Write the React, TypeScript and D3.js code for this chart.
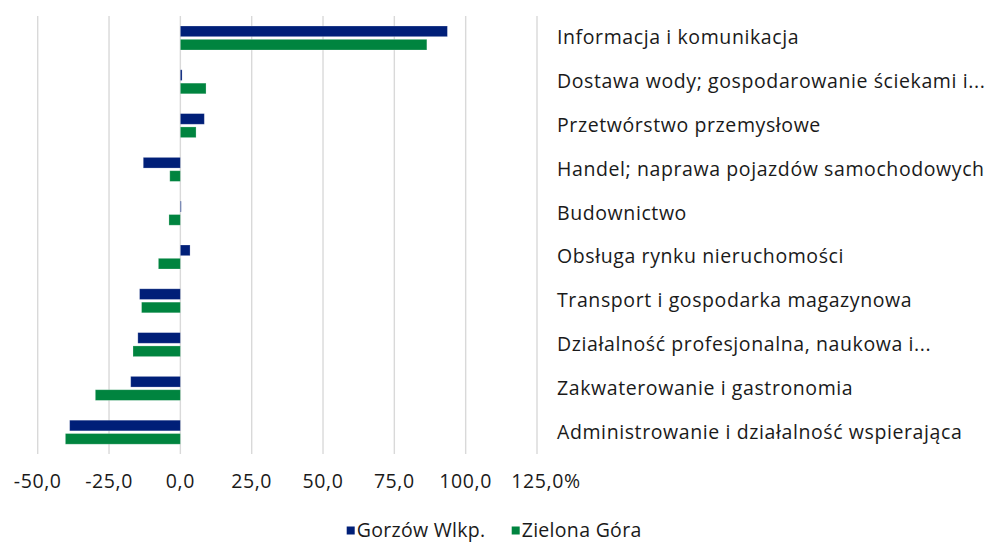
import React from "react";
import * as d3 from "d3";

const categories = [
  "Informacja i komunikacja",
  "Dostawa wody; gospodarowanie ściekami i...",
  "Przetwórstwo przemysłowe",
  "Handel; naprawa pojazdów samochodowych",
  "Budownictwo",
  "Obsługa rynku nieruchomości",
  "Transport i gospodarka magazynowa",
  "Działalność profesjonalna, naukowa i...",
  "Zakwaterowanie i gastronomia",
  "Administrowanie i działalność wspierająca",
];

const seriesNames = ["Gorzów Wlkp.", "Zielona Góra"];
const gorzow = [93.6, 0.6, 8.4, -13.0, 0.3, 3.4, -14.3, -14.9, -17.4, -38.8];
const zielona = [86.4, 9.0, 5.5, -3.7, -4.0, -7.7, -13.6, -16.6, -29.8, -40.3];
const seriesValues = [gorzow, zielona];
const colors = ["#001f78", "#00843f"];

const ticks = [-50, -25, 0, 25, 50, 75, 100, 125];

const W = 986;
const H = 542;
const FONT = "'Open Sans', 'Noto Sans', sans-serif";
const FS = 19.5;
const LS = 0.6;

export default function App() {
  const x = d3.scaleLinear().domain([-50, 125]).range([37.7, 537]);
  const y = d3.scaleBand<string>().domain(categories).range([16, 454]).padding(0);
  const inner = d3
    .scaleBand<string>()
    .domain(seriesNames)
    .range([10, 34])
    .paddingInner(0.2)
    .paddingOuter(0);

  const fmt = (v: number, i: number) =>
    v.toFixed(1).replace(".", ",") + (i === ticks.length - 1 ? "%" : "");

  return (
    <svg
      width={W}
      height={H}
      style={{ position: "absolute", left: 0, top: 0, background: "#fff" }}
      fontFamily={FONT}
    >
      {ticks.map((t) => (
        <line
          key={"g" + t}
          x1={x(t)}
          x2={x(t)}
          y1={y.range()[0]}
          y2={y.range()[1]}
          stroke="#d9d9d9"
          strokeWidth={1.4}
        />
      ))}

      {categories.map((c, ci) =>
        seriesNames.map((s, si) => {
          const v = seriesValues[si][ci];
          const x0 = x(Math.min(0, v));
          const x1 = x(Math.max(0, v));
          return (
            <rect
              key={c + s}
              x={x0}
              y={(y(c) as number) + (inner(s) as number)}
              width={Math.max(0.8, x1 - x0)}
              height={inner.bandwidth()}
              fill={colors[si]}
              stroke="#ffffff"
              strokeOpacity={0.3}
              strokeWidth={0.8}
            />
          );
        })
      )}

      {categories.map((c) => (
        <text
          key={"l" + c}
          x={557}
          y={(y(c) as number) + y.bandwidth() / 2 + 6.5}
          fontSize={FS}
          letterSpacing={LS}
          fill="#1a1a1a"
        >
          {c}
        </text>
      ))}

      {ticks.map((t, i) => (
        <text
          key={"t" + t}
          x={x(t) + (i === ticks.length - 1 ? 9 : 0)}
          y={488}
          textAnchor="middle"
          fontSize={FS}
          letterSpacing={LS}
          fill="#1a1a1a"
        >
          {fmt(t, i)}
        </text>
      ))}

      <g>
        {seriesNames.map((s, i) => {
          const lx = [346.7, 511.7][i];
          return (
            <g key={"lg" + s}>
              <rect x={lx} y={526.5} width={8} height={8} fill={colors[i]} />
              <text x={lx + 10} y={536.5} fontSize={FS} letterSpacing={0.3} fill="#1a1a1a">
                {s}
              </text>
            </g>
          );
        })}
      </g>
    </svg>
  );
}
